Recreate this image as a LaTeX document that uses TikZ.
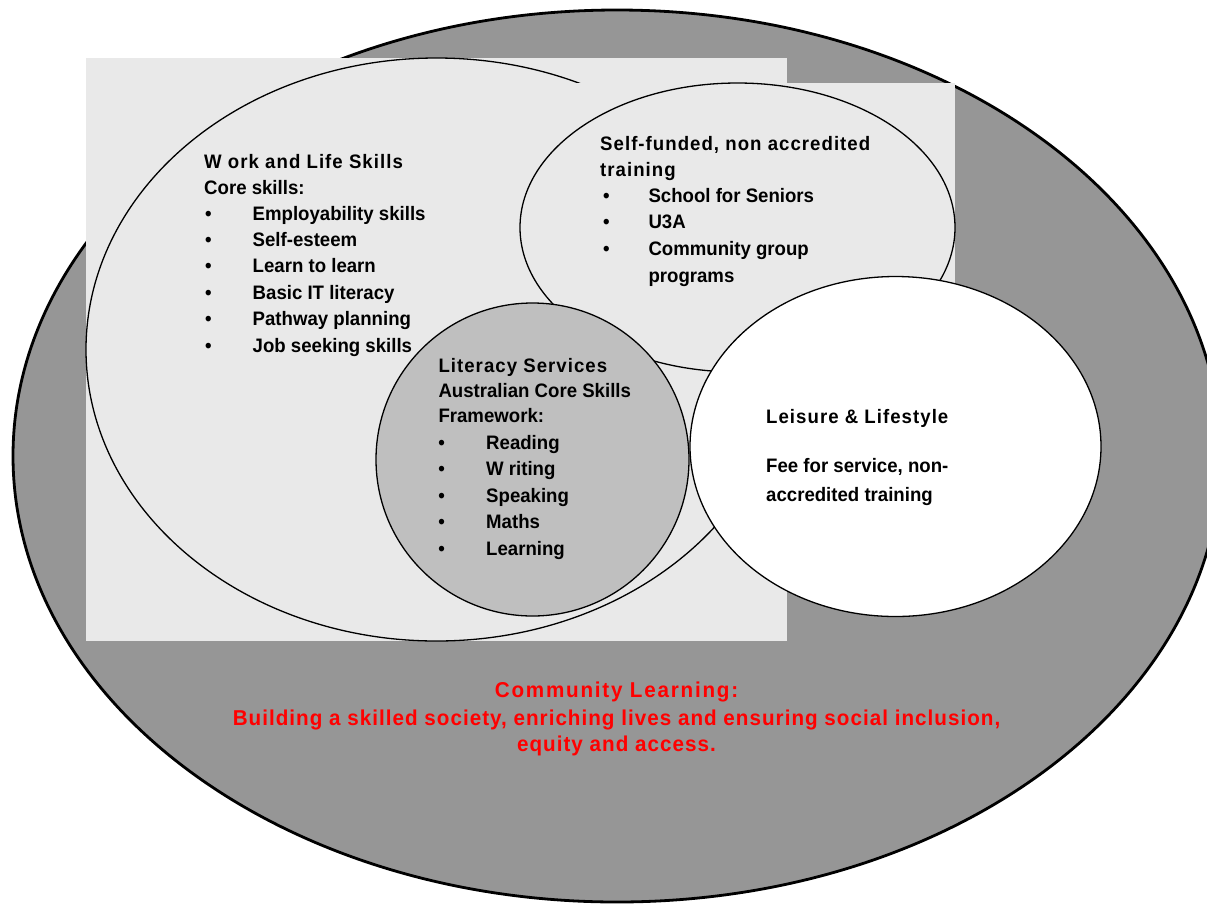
\documentclass[tikz,border=0pt]{standalone}
\usepackage{fontspec}
\usetikzlibrary{shapes.geometric}
\setmainfont{Liberation Sans}
\newfontfamily\lbfam{Liberation Sans Bold}[FakeStretch=0.955]
\newfontfamily\lheadfam{Liberation Sans Bold}[FakeStretch=0.955,LetterSpace=5.3]
\newfontfamily\lredheadfam{Liberation Sans Bold}[FakeStretch=0.96,LetterSpace=8.2]
\newfontfamily\lredfam{Liberation Sans Bold}[FakeStretch=0.96,LetterSpace=4.7]
\newcommand\txbody{\lbfam\fontsize{19.5pt}{22pt}\selectfont}
\newcommand\txhead{\lheadfam\fontsize{19.5pt}{22pt}\selectfont}
\newcommand\txredhead{\lredheadfam\fontsize{21.5pt}{24pt}\selectfont}
\newcommand\txred{\lredfam\fontsize{21.5pt}{24pt}\selectfont}
\definecolor{outergray}{RGB}{150,150,150}
\definecolor{lightbg}{RGB}{233,233,233}
\definecolor{litgray}{RGB}{191,191,191}
\definecolor{redtext}{RGB}{255,0,0}
\begin{document}
\begin{tikzpicture}[x=1pt,y=-1pt,
  ell/.style={ellipse, draw=black, line width=1.3pt, inner sep=0pt, outer sep=0pt},
  bodytxt/.style={anchor=base west, inner sep=0pt, font=\txbody},
  headtxt/.style={anchor=base west, inner sep=0pt, font=\txhead},
  bul/.style={anchor=base, inner sep=0pt, font=\txbody},
  redhead/.style={anchor=base, inner sep=0pt, font=\txredhead, text=redtext},
  redtxt/.style={anchor=base, inner sep=0pt, font=\txred, text=redtext}]
\useasboundingbox (0,0) rectangle (1207,906);
\fill[white] (0,0) rectangle (1207,906);
% regions
\node[ell, fill=outergray, line width=2.8pt, minimum width=1208pt, minimum height=892pt] (outer) at (617,456) {};
\fill[lightbg] (86,58) rectangle (787,641);
\node[ell, minimum width=701pt, minimum height=583pt] (work) at (436.5,349.5) {};
\fill[lightbg] (520,83) rectangle (955,372);
\node[ell, minimum width=435pt, minimum height=289pt] (self) at (737.5,227.5) {};
\node[ell, fill=litgray, minimum width=313pt, minimum height=313pt] (lit) at (532.5,459.5) {};
\node[ell, fill=white, minimum width=411pt, minimum height=340pt] (leis) at (895.5,446.5) {};
% Work and Life Skills
\node[headtxt] (w0) at (204,168.3) {W ork and Life Skills};
\node[bodytxt] (w1) at (204,194.3) {Core skills:};
\foreach \t [count=\i] in {Employability skills,Self-esteem,Learn to learn,Basic IT literacy,Pathway planning,Job seeking skills}{
  \pgfmathsetmacro\yy{220+26.45*(\i-1)}
  \node[bul] (wb\i) at (208.5,\yy) {\textbullet};
  \node[bodytxt] (wi\i) at (252.5,\yy) {\t};
}
% Self-funded
\node[headtxt] (s0) at (600,150.7) {Self-funded, non accredited};
\node[headtxt] (s1) at (600,176.7) {training};
\node[bul] (sb1) at (606.5,202.7) {\textbullet};
\node[bodytxt] (si1) at (648.3,202.7) {School for Seniors};
\node[bul] (sb2) at (606.5,228.3) {\textbullet};
\node[bodytxt] (si2) at (648.3,228.3) {U3A};
\node[bul] (sb3) at (606.5,255) {\textbullet};
\node[bodytxt] (si3) at (648.3,255) {Community group};
\node[bodytxt] (si4) at (648.3,282.7) {programs};
% Literacy
\node[headtxt] (l0) at (438.3,372.7) {Literacy Services};
\node[bodytxt] (l1) at (438.3,397.3) {Australian Core Skills};
\node[bodytxt] (l2) at (438.3,422.7) {Framework:};
\foreach \t [count=\i] in {Reading,W riting,Speaking,Maths,Learning}{
  \pgfmathsetmacro\yy{449.3+26.45*(\i-1)}
  \node[bul] (lb\i) at (441.7,\yy) {\textbullet};
  \node[bodytxt] (li\i) at (486,\yy) {\t};
}
% Leisure
\node[headtxt] (e0) at (766,423.3) {Leisure \& Lifestyle};
\node[bodytxt] (e1) at (766,472.7) {Fee for service, non-};
\node[bodytxt] (e2) at (766,501.7) {accredited training};
% Community learning
\node[redhead] (c0) at (616.5,697) {Community Learning:};
\node[redtxt] (c1) at (616.5,725) {Building a skilled society, enriching lives and ensuring social inclusion,};
\node[redtxt] (c2) at (616.5,751.5) {equity and access.};
\end{tikzpicture}
\end{document}
